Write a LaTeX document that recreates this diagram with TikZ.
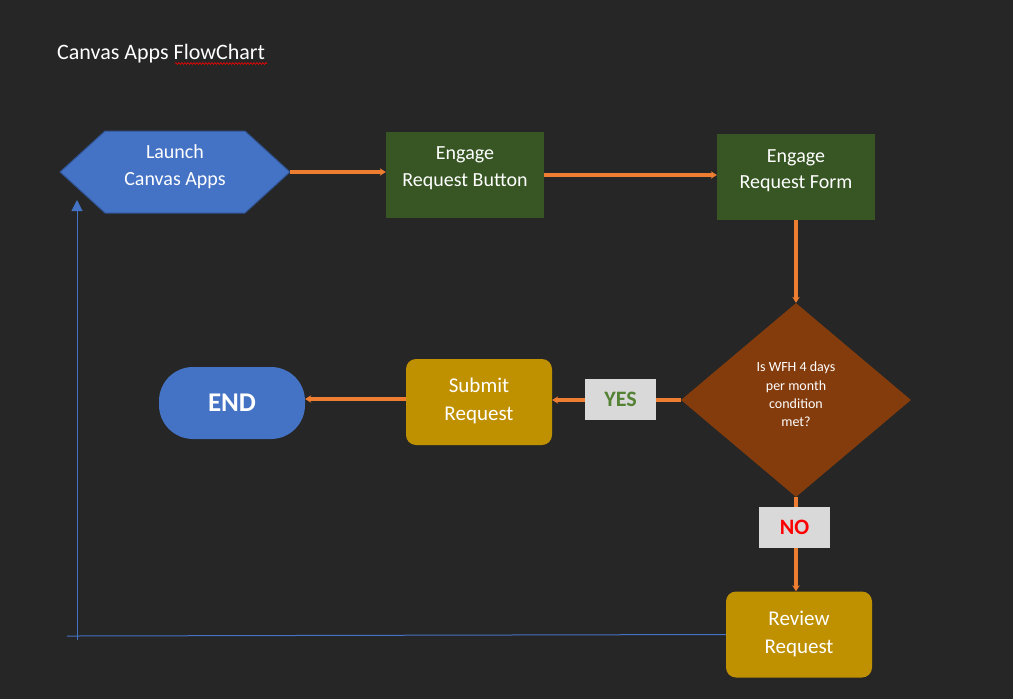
\documentclass[tikz,border=0pt]{standalone}
\usepackage{fontspec}
\setmainfont{Carlito}
\usetikzlibrary{shapes.geometric,arrows.meta,decorations.pathmorphing}
\definecolor{bgc}{HTML}{262626}
\definecolor{bluef}{HTML}{4472C4}
\definecolor{blued}{HTML}{2F528F}
\definecolor{greenf}{HTML}{375623}
\definecolor{brownf}{HTML}{843C0C}
\definecolor{goldf}{HTML}{BF9000}
\definecolor{orangec}{HTML}{ED7D31}
\definecolor{greyf}{HTML}{D9D9D9}
\definecolor{yesc}{HTML}{548235}
\tikzset{
  boxtext/.style={text=white, align=center, inner sep=0pt, font=\fontsize{20}{27}\selectfont},
  goldtext/.style={boxtext, font=\fontsize{21}{28}\selectfont},
  dectext/.style={boxtext, font=\fontsize{14}{18.3}\selectfont},
  greenbox/.style={fill=greenf, minimum width=158pt, minimum height=86pt, inner sep=0pt},
  goldbox/.style={fill=goldf, rounded corners=10pt, minimum width=146pt, minimum height=86pt, inner sep=0pt},
  decision/.style={diamond, fill=brownf, minimum width=230pt, minimum height=194pt, inner sep=0pt},
  tagbox/.style={fill=greyf, minimum width=71pt, minimum height=41pt, inner sep=0pt, font=\fontsize{22}{24}\selectfont\bfseries},
  endbox/.style={fill=bluef, rounded corners=34pt, minimum width=146pt, minimum height=72pt, inner sep=0pt, text=white, font=\fontsize{27}{30}\selectfont\bfseries},
  flow/.style={draw=orangec, line width=3.2pt, -{Stealth[length=6pt,width=7.5pt]}},
  back/.style={draw=bluef, line width=1pt},
}
\begin{document}
\begin{tikzpicture}[x=1pt,y=-1pt]
\fill[bgc] (0,0) rectangle (1013,699);
\useasboundingbox (0,0) rectangle (1013,699);
% title
\node[anchor=base west, inner sep=0pt, text=white, font=\fontsize{22}{24}\selectfont] (title) at (57,59) {Canvas Apps FlowChart};
\draw[red, line width=0.6pt, decorate, decoration={snake, amplitude=0.9pt, segment length=3pt}] (175,63.5) -- (267,63.5);
% hexagon
\fill[bluef, draw=blued, line width=1pt] (60,172) -- (105,131) -- (245,131) -- (290,172) -- (245,213) -- (105,213) -- cycle;
\node[minimum width=230pt, minimum height=82pt, inner sep=0pt] (launch) at (175,172) {};
\node[boxtext] (launcht) at ([yshift=5.3pt]launch.center) {Launch\\Canvas Apps};
% green boxes
\node[greenbox] (btn) at (465,175) {};
\node[boxtext] (btnt) at ([yshift=7pt]btn.center) {Engage\\Request Button};
\node[greenbox] (form) at (796,177) {};
\node[boxtext, font=\fontsize{20}{26}\selectfont] (formt) at ([yshift=6.5pt]form.center) {Engage\\Request Form};
% decision
\node[decision] (dec) at (796,400) {};
\node[dectext] (dect) at ([yshift=5.4pt]dec.center) {Is WFH 4 days\\per month\\condition\\met?};
% submit, end, review
\node[goldbox] (submit) at (479,402) {};
\node[goldtext] (submitt) at ([yshift=1.3pt]submit.center) {Submit\\Request};
\node[endbox] (end) at (232,403) {END};
\node[goldbox] (review) at (799,634.5) {};
\node[goldtext] (reviewt) at ([yshift=0.3pt]review.center) {Review\\Request};
% connectors
\draw[flow] (launch.east) -- (launch.east -| btn.west);
\draw[flow] (btn.east) -- (btn.east -| form.west);
\draw[flow] (form.south) -- (dec.north);
\draw[flow] (dec.west) -- (dec.west -| submit.east);
\draw[flow] (submit.west) ++(0,-3) coordinate (sw) -- (sw -| end.east);
\draw[flow] (dec.south) -- (dec.south |- review.north);
% labels on connectors
\node[tagbox, text=yesc] (yes) at (620.5,399.5) {YES};
\node[tagbox, text=red] (no) at (794.5,527.5) {NO};
% return line
\coordinate (corner) at (77,636);
\coordinate (low) at (77,640);
\coordinate (tip) at (77,200);
\draw[back] (review.west) -- (corner) -- (67,636);
\draw[back, -{Triangle[length=11pt,width=11pt]}] (low) -- (tip);
\end{tikzpicture}
\end{document}
